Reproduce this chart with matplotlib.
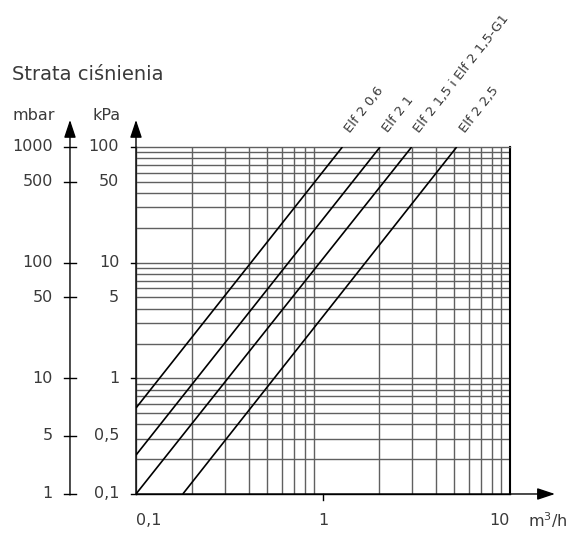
import matplotlib
matplotlib.use("Agg")
import matplotlib.pyplot as plt
import matplotlib.transforms as mtransforms

# flow Q [m3/h] and pressure loss [kPa] at the two ends of each line
names = ['Elf 2 0,6', 'Elf 2 1', 'Elf 2 1,5 i Elf 2 1,5-G1', 'Elf 2 2,5']
q_lines = [[0.1, 1.27], [0.1, 2.02], [0.1, 2.98], [0.178, 5.19]]
dp_lines = [[0.554, 100], [0.217, 100], [0.1, 100], [0.1, 100]]

# grid values
x_grid = [0.2, 0.3, 0.4, 0.5, 0.6, 0.7, 0.8, 0.9, 2, 3, 4, 5, 6, 7, 8, 9]
y_grid = [0.2, 0.3, 0.4, 0.5, 0.6, 0.7, 0.8, 0.9, 1, 2, 3, 4, 5, 6, 7, 8, 9,
          10, 20, 30, 40, 50, 60, 70, 80, 90]

# left scales (position in kPa, label)
mbar_pos = [100, 50, 10, 5, 1, 0.32, 0.1]
mbar_labels = ['1000', '500', '100', '50', '10', '5', '1']
kpa_pos = [100, 50, 10, 5, 1, 0.32, 0.1]
kpa_labels = ['100', '50', '10', '5', '1', '0,5', '0,1']
kpa_ticks = [100, 10, 1, 0.1]

txt = '#3a3a3a'
grid_c = '#606060'

fig = plt.figure(figsize=(5.76, 5.38), dpi=100)
ax = fig.add_axes([0.2361, 0.0818, 0.6493, 0.6450])
ax.set_xscale('log')
ax.set_yscale('log')
ax.set_xlim(0.1, 10)
ax.set_ylim(0.1, 100)
ax.set_xticks([])
ax.set_yticks([])
ax.minorticks_off()

for x in x_grid:
    ax.axvline(x, color=grid_c, lw=1.0, zorder=1)
for y in y_grid:
    ax.axhline(y, color=grid_c, lw=1.0, zorder=1)

for s in ['left', 'top']:
    ax.spines[s].set_color(grid_c)
    ax.spines[s].set_linewidth(1.0)
ax.spines['right'].set_color('black')
ax.spines['right'].set_linewidth(1.5)
ax.spines['bottom'].set_color('black')
ax.spines['bottom'].set_linewidth(1.0)

for name, q, dp in zip(names, q_lines, dp_lines):
    ax.plot(q, dp, color='black', lw=1.2, zorder=3, solid_capstyle='butt')
    ax.annotate(name, xy=(q[1], dp[1]), xytext=(8, 14), textcoords='offset pixels',
                rotation=52, rotation_mode='anchor', ha='left', va='baseline',
                fontsize=9.5, color=txt, annotation_clip=False)

# axis arrows
arrow = dict(arrowstyle='-|>,head_length=0.6,head_width=0.2', mutation_scale=18,
             color='black', lw=1.0, shrinkA=0, shrinkB=0)
ax.annotate('', xy=(0, 1.078), xytext=(0, 0), xycoords='axes fraction', arrowprops=arrow)
ax.annotate('', xy=(-0.1765, 1.078), xytext=(-0.1765, -0.003), xycoords='axes fraction',
            arrowprops=arrow)
ax.annotate('', xy=(1.1203, 0), xytext=(0, 0), xycoords='axes fraction', arrowprops=arrow)

trans = mtransforms.blended_transform_factory(ax.transAxes, ax.transData)
for p, lab in zip(mbar_pos, mbar_labels):
    ax.plot([-0.193, -0.160], [p, p], color='black', lw=1.0, transform=trans, clip_on=False)
    ax.text(-0.222, p, lab, transform=trans, ha='right', va='center', fontsize=11.5, color=txt)
for p, lab in zip(kpa_pos, kpa_labels):
    ax.text(-0.045, p, lab, transform=trans, ha='right', va='center', fontsize=11.5, color=txt)
for p in kpa_ticks:
    ax.plot([-0.014, 0], [p, p], color='black', lw=1.0, transform=trans, clip_on=False)

# x labels
xtrans = mtransforms.blended_transform_factory(ax.transData, ax.transAxes)
ax.plot([1, 1], [-0.018, 0], color='black', lw=1.0, transform=xtrans, clip_on=False)
ax.text(0.1, -0.075, '0,1', transform=xtrans, ha='left', va='center', fontsize=11.5, color=txt)
ax.text(1, -0.075, '1', transform=xtrans, ha='center', va='center', fontsize=11.5, color=txt)
ax.text(10, -0.075, '10', transform=xtrans, ha='right', va='center', fontsize=11.5, color=txt)
ax.text(1.047, -0.075, 'm$^3$/h', transform=ax.transAxes, ha='left', va='center',
        fontsize=11.5, color=txt)

fig.text(12 / 576, 1 - 74 / 538, 'Strata ciśnienia', ha='left', va='center', fontsize=14, color=txt)
fig.text(12 / 576, 1 - 115 / 538, 'mbar', ha='left', va='center', fontsize=11.5, color=txt)
fig.text(92 / 576, 1 - 115 / 538, 'kPa', ha='left', va='center', fontsize=11.5, color=txt)

fig.savefig('out.png', dpi=100)
